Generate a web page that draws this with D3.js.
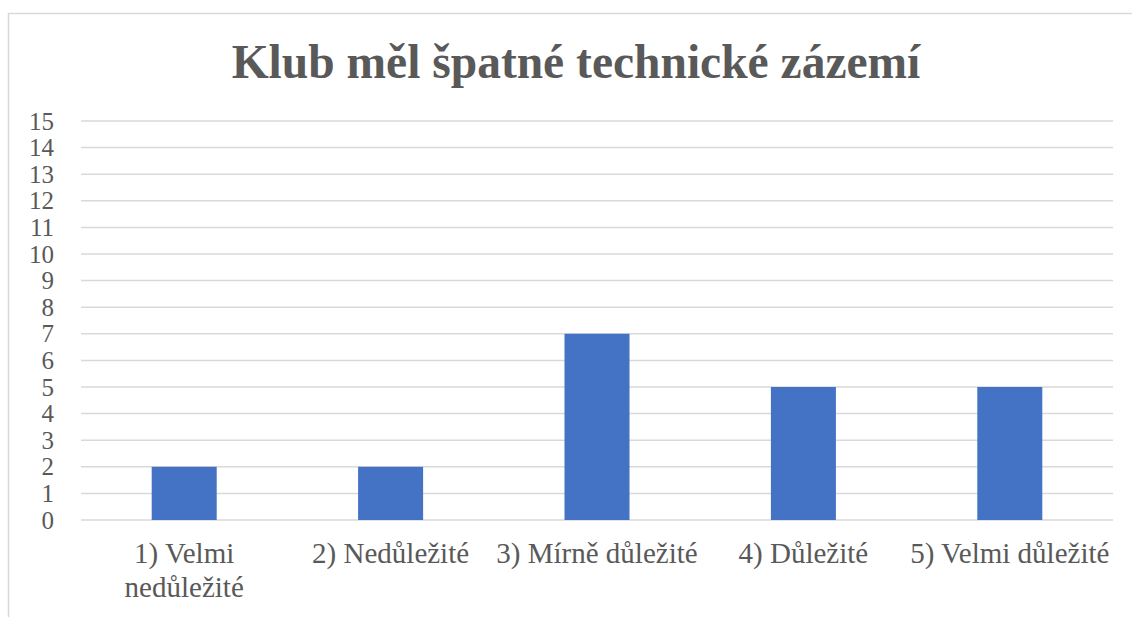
<!DOCTYPE html>
<html>
<head>
<meta charset="utf-8">
<script src="https://cdn.jsdelivr.net/npm/d3@7"></script>
<style>
  body { margin: 0; background: #fff; }
  svg { display: block; font-family: "Liberation Serif", "Times New Roman", serif; }
</style>
</head>
<body>
<svg id="chart"></svg>
<script>
// chart data
var title = "Klub měl špatné technické zázemí";
var categories = ["1) Velmi nedůležité", "2) Nedůležité", "3) Mírně důležité", "4) Důležité", "5) Velmi důležité"];
var counts = [2, 2, 7, 5, 5];
var yTicks = [0, 1, 2, 3, 4, 5, 6, 7, 8, 9, 10, 11, 12, 13, 14, 15];

var W = 1132, H = 617;
var plot = { left: 81, right: 1113, top: 121, bottom: 520 };

var svg = d3.select("#chart").attr("width", W).attr("height", H);

// outer chart border (cut off at right/bottom like the source)
svg.append("rect")
    .attr("x", 8.5).attr("y", 13.5)
    .attr("width", W + 10).attr("height", H + 10)
    .attr("fill", "#fff")
    .attr("stroke", "#d9d9d9")
    .attr("stroke-width", 1.5);

svg.append("text")
    .attr("x", 576).attr("y", 78)
    .attr("text-anchor", "middle")
    .style("font-size", "47.5px")
    .style("font-weight", "bold")
    .style("fill", "#595959")
    .text(title);

var x = d3.scaleBand().domain(categories).range([plot.left, plot.right]).padding(0);
var y = d3.scaleLinear().domain([0, 15]).range([plot.bottom, plot.top]);

// gridlines
svg.append("g")
    .selectAll("line")
    .data(yTicks)
    .enter().append("line")
    .attr("x1", plot.left).attr("x2", plot.right)
    .attr("y1", function (d) { return y(d); })
    .attr("y2", function (d) { return y(d); })
    .attr("stroke", "#d9d9d9")
    .attr("stroke-width", 1.5);

// y axis labels
var yAxis = d3.axisLeft(y).tickValues(yTicks).tickSize(0).tickPadding(0);
var gy = svg.append("g")
    .attr("transform", "translate(" + 54 + ",0)")
    .call(yAxis);
gy.select(".domain").remove();
gy.selectAll("text")
    .style("font-family", "'Liberation Serif', serif")
    .style("font-size", "25px")
    .style("fill", "#595959");

// bars
var barW = x.bandwidth() * 0.315;
svg.append("g")
    .selectAll("rect")
    .data(counts)
    .enter().append("rect")
    .attr("x", function (d, i) { return x(categories[i]) + (x.bandwidth() - barW) / 2; })
    .attr("y", function (d) { return y(d); })
    .attr("width", barW)
    .attr("height", function (d) { return y(0) - y(d); })
    .attr("fill", "#4472c4");

// x axis labels, wrapped to the band width
var xAxis = d3.axisBottom(x).tickSize(0).tickPadding(0);
var gx = svg.append("g")
    .attr("transform", "translate(0," + plot.bottom + ")")
    .call(xAxis);
gx.select(".domain").remove();
gx.selectAll("text")
    .style("font-family", "'Liberation Serif', serif")
    .style("font-size", "29px")
    .style("fill", "#595959")
    .attr("y", 0)
    .attr("dy", null)
    .each(function (d) {
        var t = d3.select(this);
        var words = d.split(" ");
        t.text(null);
        var lines = [], cur = [];
        var tsp = t.append("tspan");
        words.forEach(function (w) {
            cur.push(w);
            tsp.text(cur.join(" "));
            if (tsp.node().getComputedTextLength() > x.bandwidth() + 2 && cur.length > 1) {
                cur.pop();
                lines.push(cur.join(" "));
                cur = [w];
            }
        });
        lines.push(cur.join(" "));
        t.text(null);
        lines.forEach(function (ln, i) {
            t.append("tspan").attr("x", 0).attr("y", 43 + i * 34).text(ln);
        });
    });
</script>
</body>
</html>
